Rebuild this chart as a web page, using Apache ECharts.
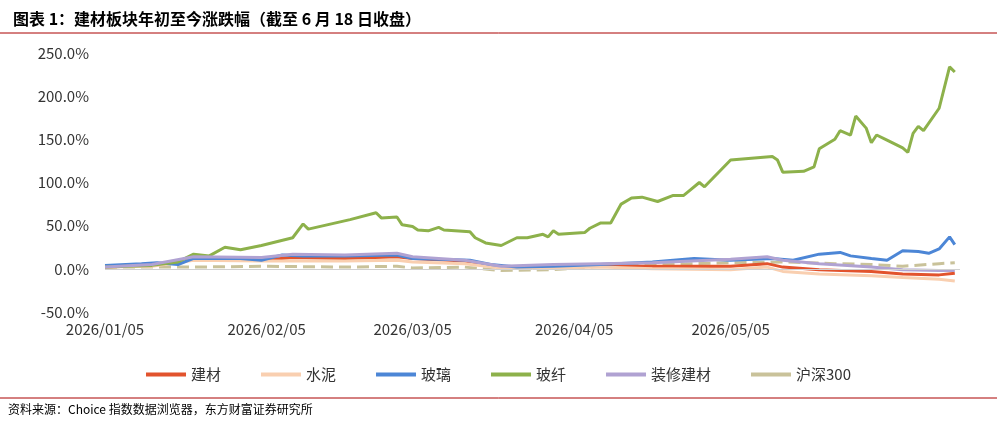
<!DOCTYPE html><html><head><meta charset="utf-8"><script src="https://cdn.jsdelivr.net/npm/echarts@6/dist/echarts.min.js"></script></head><body style="margin:0"><div id="c" style="width:997px;height:423px"></div><script>
const jiancai=[["2026-01-05",2],["2026-01-14",4],["2026-01-22",12],["2026-02-04",10],["2026-02-10",13],["2026-02-20",12],["2026-03-02",14],["2026-03-05",12],["2026-03-15",9],["2026-03-22",2],["2026-04-01",3],["2026-04-10",4],["2026-04-20",3],["2026-05-05",3],["2026-05-12",6],["2026-05-15",2],["2026-05-22",-1],["2026-06-01",-3],["2026-06-07",-6],["2026-06-14",-7],["2026-06-17",-5]];
const shuini=[["2026-01-05",2],["2026-01-14",3],["2026-01-22",10],["2026-02-04",9],["2026-02-20",9],["2026-03-02",10],["2026-03-05",8],["2026-03-15",6],["2026-03-22",1],["2026-04-01",1],["2026-04-10",2],["2026-04-20",0],["2026-05-05",-1],["2026-05-12",2],["2026-05-15",-3],["2026-05-22",-6],["2026-06-01",-8],["2026-06-07",-10],["2026-06-14",-12],["2026-06-17",-14]];
const boli=[["2026-01-05",4],["2026-01-12",6],["2026-01-15",7],["2026-01-19",5],["2026-01-22",12],["2026-01-31",12],["2026-02-04",10],["2026-02-08",16],["2026-02-12",15],["2026-02-20",15],["2026-03-02",16],["2026-03-05",12],["2026-03-10",11],["2026-03-16",10],["2026-03-20",5],["2026-03-25",2],["2026-04-01",3],["2026-04-10",5],["2026-04-20",8],["2026-04-28",12],["2026-05-05",10],["2026-05-13",12],["2026-05-17",10],["2026-05-22",17],["2026-05-26",19],["2026-05-28",15],["2026-06-01",12],["2026-06-04",10],["2026-06-07",21],["2026-06-10",20],["2026-06-12",18],["2026-06-14",23],["2026-06-16",37],["2026-06-17",28]];
const boxian=[["2026-01-05",2],["2026-01-14",4],["2026-01-19",8],["2026-01-22",17],["2026-01-25",15],["2026-01-28",25],["2026-01-31",22],["2026-02-04",27],["2026-02-10",36],["2026-02-12",52],["2026-02-13",46],["2026-02-21",57],["2026-02-26",65],["2026-02-27",59],["2026-03-02",60],["2026-03-03",51],["2026-03-05",49],["2026-03-06",45],["2026-03-08",44],["2026-03-10",48],["2026-03-11",45],["2026-03-16",43],["2026-03-17",36],["2026-03-19",30],["2026-03-22",27],["2026-03-25",36],["2026-03-27",36],["2026-03-30",40],["2026-03-31",37],["2026-04-01",44],["2026-04-02",40],["2026-04-07",42],["2026-04-08",47],["2026-04-10",53],["2026-04-12",53],["2026-04-14",75],["2026-04-16",82],["2026-04-18",83],["2026-04-21",78],["2026-04-24",85],["2026-04-26",85],["2026-04-27",90],["2026-04-29",100],["2026-04-30",95],["2026-05-05",126],["2026-05-13",130],["2026-05-14",126],["2026-05-15",112],["2026-05-19",113],["2026-05-21",118],["2026-05-22",139],["2026-05-25",150],["2026-05-26",160],["2026-05-28",155],["2026-05-29",177],["2026-05-31",163],["2026-06-01",146],["2026-06-02",155],["2026-06-04",149],["2026-06-07",140],["2026-06-08",135],["2026-06-09",157],["2026-06-10",165],["2026-06-11",160],["2026-06-14",186],["2026-06-16",234],["2026-06-17",228]];
const zhuangxiu=[["2026-01-05",2],["2026-01-14",5],["2026-01-22",14],["2026-02-04",13],["2026-02-10",17],["2026-02-20",16],["2026-03-02",18],["2026-03-05",14],["2026-03-15",10],["2026-03-22",3],["2026-04-01",5],["2026-04-10",6],["2026-04-20",7],["2026-05-05",11],["2026-05-12",14],["2026-05-15",10],["2026-05-22",6],["2026-06-01",2],["2026-06-07",-1],["2026-06-14",-2],["2026-06-17",-2]];
const hs300=[["2026-01-05",2],["2026-01-22",2],["2026-02-04",3],["2026-02-20",2],["2026-03-02",3],["2026-03-05",1],["2026-03-15",2],["2026-03-22",-2],["2026-04-01",-1],["2026-04-10",3],["2026-04-20",5],["2026-05-05",7],["2026-05-15",8],["2026-05-25",6],["2026-06-01",5],["2026-06-07",3],["2026-06-14",6],["2026-06-17",7]];
const tickDates=["2026-01-05","2026-02-05","2026-03-05","2026-04-05","2026-05-05","2026-06-05"];
const ts=d=>Date.UTC(+d.slice(0,4),+d.slice(5,7)-1,+d.slice(8,10));
const fmt=v=>{const d=new Date(v);const p=n=>String(n).padStart(2,'0');return d.getUTCFullYear()+'/'+p(d.getUTCMonth()+1)+'/'+p(d.getUTCDate());};
const font='"Noto Sans CJK SC","Noto Sans",sans-serif';
const mk=(name,data,color,dash)=>({name,type:'line',data:data.map(p=>[ts(p[0]),p[1]]),showSymbol:false,symbol:'none',lineStyle:{width:3,color,type:dash?'dashed':'solid'},itemStyle:{color},z:dash?1:2});
const series=[mk('建材',jiancai,'#E2532D'),mk('水泥',shuini,'#F9CFB0'),mk('玻璃',boli,'#4C86D6'),mk('玻纤',boxian,'#8DB14B'),mk('装修建材',zhuangxiu,'#B0A2D2'),mk('沪深300',hs300,'#C9C29A',true)];
series[0].markLine={silent:true,symbol:'none',label:{show:false},lineStyle:{color:'#d0d0d0',type:'solid',width:1},data:[{yAxis:0}]};
const ch=echarts.init(document.getElementById('c'));
ch.setOption({animation:false,
title:{text:'图表 1：建材板块年初至今涨跌幅（截至 6 月 18 日收盘）',left:8,top:6,textStyle:{fontSize:16,fontWeight:'bold',color:'#000',fontFamily:font}},
graphic:[{type:'line',shape:{x1:0,y1:33,x2:997,y2:33},style:{stroke:'#a00',lineWidth:1}},
{type:'line',shape:{x1:0,y1:398,x2:997,y2:398},style:{stroke:'#a00',lineWidth:1}},
{type:'text',left:8,top:403,style:{text:'资料来源：Choice 指数数据浏览器，东方财富证券研究所',fontSize:12,fill:'#000',fontFamily:font}}],
legend:{top:362,left:'center',itemWidth:40,itemHeight:4,itemGap:40,textStyle:{fontSize:15,color:'#333',fontFamily:font},data:series.map(s=>({name:s.name,icon:'rect'}))},
grid:{left:105,right:37,top:53,bottom:111},
xAxis:{type:'value',min:ts('2026-01-05'),max:ts('2026-06-18'),axisLine:{show:false},axisTick:{show:false},splitLine:{show:false},
axisLabel:{customValues:tickDates.map(ts),formatter:fmt,fontSize:15,color:'#333',fontFamily:font,margin:10,showMinLabel:true,showMaxLabel:false}},
yAxis:{type:'value',min:-50,max:250,interval:50,axisLine:{show:false},axisTick:{show:false},splitLine:{show:false},axisLabel:{formatter:v=>v.toFixed(1)+'%',fontSize:15,color:'#333',fontFamily:font,margin:16}},
series});
</script></body></html>
